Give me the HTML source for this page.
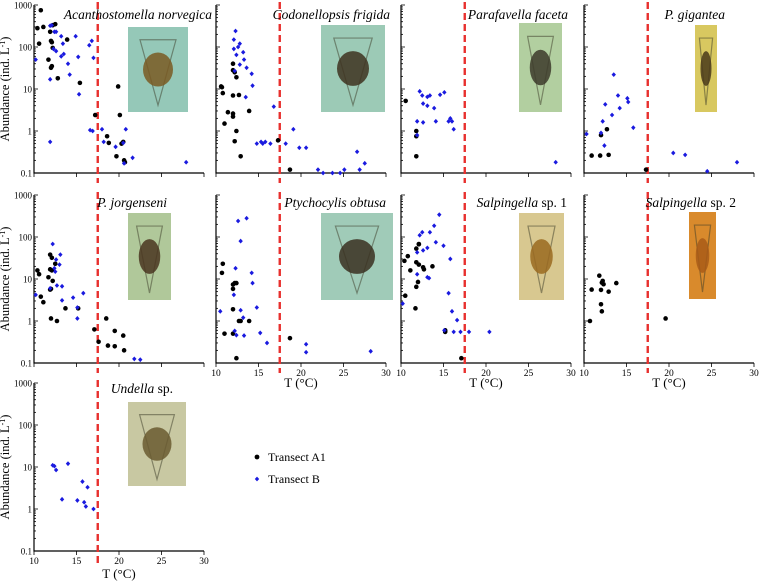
<!DOCTYPE html>
<html><head><meta charset="utf-8"><style>
body{margin:0;background:#fff;}
svg{display:block;font-family:"Liberation Serif",serif;}
</style></head><body>
<svg id="fig" width="760" height="583" viewBox="0 0 760 583"></svg>
<script>
// ---- data: [T (°C), abundance (ind. L-1)] ----
const acanA1=[[10.8,750],[10.4,280],[11.1,300],[10.6,120],[11.9,230],[12.2,330],[12.5,350],[12.0,140],[12.1,130],[12.2,95],[11.7,50],[12.0,32],[12.1,35],[12.8,18],[13.9,150],[15.4,14],[17.2,2.4],[18.6,0.75],[18.8,0.52],[19.7,0.25],[19.9,11.5],[20.1,2.4],[20.3,0.5],[20.5,0.55],[20.6,0.2],[20.7,0.18]];
const acanB=[[10.2,50],[11.9,320],[12.1,330],[12.4,230],[12.6,230],[13.2,180],[13.4,120],[12.3,90],[12.6,80],[13.2,60],[13.5,68],[14.0,40],[14.2,22],[14.9,180],[15.2,58],[15.3,7.5],[16.5,110],[16.8,140],[17.0,55],[11.9,17],[11.9,0.55],[16.6,1.05],[16.9,1.0],[18.0,1.1],[18.2,0.55],[19.6,0.42],[20.5,0.52],[20.8,1.1],[20.6,0.17],[21.6,0.23],[27.9,0.18]];
const codoA1=[[10.6,11.5],[10.7,11],[10.8,8],[12.0,40],[12.0,28],[12.2,25],[12.4,19],[12.0,7],[12.7,7.2],[11.4,2.8],[12.0,2.6],[12.0,2.2],[11.0,1.5],[12.4,1.0],[12.2,0.57],[12.9,0.25],[13.9,3],[17.3,0.6],[18.7,0.12]];
const codoB=[[12.3,240],[12.1,150],[12.8,120],[12.1,90],[12.6,100],[13.2,75],[12.4,65],[13.3,50],[12.8,38],[13.6,32],[12.2,27],[14.2,23],[14.3,12],[13.5,6.4],[16.8,3.8],[14.8,0.5],[15.3,0.55],[15.5,0.5],[15.8,0.55],[16.4,0.5],[18.2,0.5],[19.1,1.1],[19.8,0.4],[20.6,0.4],[22.0,0.12],[22.6,0.1],[23.7,0.1],[24.6,0.1],[25.1,0.12],[26.6,0.32],[26.9,0.12],[27.5,0.17]];
const paraA1=[[10.55,5.2],[11.8,1.0],[11.8,0.75],[11.8,0.25]];
const paraB=[[12.2,8.8],[12.5,7],[13.1,6.5],[13.4,7],[12.6,4.5],[13.1,4],[13.9,3.5],[14.6,7.3],[15.1,8.3],[11.9,1.7],[12.6,1.6],[14.1,1.7],[15.6,1.7],[15.8,2],[16.0,1.7],[16.2,1.1],[11.9,0.8],[28.2,0.18]];
const gigA1=[[10.9,0.26],[11.9,0.26],[12.9,0.27],[12.0,0.8],[12.7,1.1],[17.3,0.12]];
const gigB=[[10.3,0.85],[12.0,0.9],[12.2,1.7],[12.4,0.45],[12.5,4.3],[13.3,2.4],[13.5,22],[14.0,7],[14.2,3.5],[15.1,6],[15.2,4.9],[15.8,1.2],[20.5,0.3],[21.9,0.27],[24.5,0.11],[28.0,0.18]];
const jorgA1=[[10.4,16],[10.6,13],[11.9,38],[12.1,32],[12.5,23],[11.9,17],[12.1,16],[11.7,11],[12.2,9],[11.9,5.6],[12.0,5.8],[10.8,3.8],[11.1,2.8],[13.7,2.0],[15.2,2.0],[12.0,1.15],[12.7,1.0],[17.1,0.63],[17.6,0.32],[18.5,1.15],[18.7,0.26],[19.5,0.58],[19.5,0.25],[20.5,0.45],[20.6,0.2]];
const jorgB=[[10.2,4.2],[12.2,68],[12.6,29],[13.1,38],[13.0,22],[12.4,18],[12.5,15],[12.7,7],[13.3,6.7],[11.9,6],[13.3,3.1],[14.6,3.6],[15.8,4.6],[15.1,2.1],[15.1,1.15],[21.8,0.125],[22.5,0.12]];
const ptycA1=[[10.8,23],[10.7,14],[12.0,7.4],[12.2,8],[12.4,8],[12.0,5.8],[12.0,1.9],[12.7,1.0],[12.9,1.0],[13.9,1.0],[11.0,0.5],[12.0,0.5],[12.4,0.13],[18.7,0.39]];
const ptycB=[[12.6,240],[13.6,280],[12.9,80],[12.3,18],[14.2,14],[14.3,8],[12.1,4.2],[14.8,2.1],[12.9,1.8],[10.5,1.7],[13.2,1.2],[12.2,0.58],[12.4,0.46],[13.3,0.45],[15.2,0.52],[16.0,0.3],[20.6,0.28],[20.6,0.18],[28.2,0.19]];
const salp1A1=[[11.8,53],[12.1,67],[12.1,68],[10.8,35],[10.4,27],[11.8,25],[12.1,22],[11.1,16],[12.6,19],[12.7,17],[13.7,20],[12.0,8.5],[11.8,6.5],[10.5,4],[11.7,2],[15.2,0.6],[15.2,0.55],[17.1,0.13]];
const salp1B=[[14.5,340],[13.9,185],[13.4,130],[12.5,130],[12.2,110],[14.1,75],[15.0,62],[13.1,55],[12.6,48],[11.9,43],[15.8,30],[13.1,11],[13.3,10.5],[11.9,13],[15.6,4.6],[10.2,2.6],[16.0,1.7],[16.6,1.05],[15.1,0.6],[16.2,0.55],[17.0,0.55],[18.0,0.55],[20.4,0.55]];
const salp2A1=[[11.8,12],[12.1,8.2],[12.2,9],[12.3,7.5],[10.9,5.6],[12.0,5.5],[12.9,5],[13.8,8],[12.0,2.5],[12.1,1.7],[10.7,1.0],[19.6,1.15]];
const salp2B=[];
const undA1=[];
const undB=[[12.2,11],[12.4,10.5],[12.6,8.5],[14.0,12],[13.3,1.7],[15.1,1.6],[15.7,4.5],[15.9,1.45],[16.1,1.15],[16.3,3.3],[17.0,1.0]];
const xTicks=[10,15,20,25,30];
const yTicks=[0.1,1,10,100,1000];
const yTickLabels=["0.1","1","10","100","1000"];
const threshold=17.5;

const NS="http://www.w3.org/2000/svg";
const svg=document.getElementById('fig');
function mk(tag,attrs,parent){const e=document.createElementNS(NS,tag);for(const k in attrs)e.setAttribute(k,attrs[k]);(parent||svg).appendChild(e);return e;}

const panels=[
 {id:'acanthostomella',title:[['Acanthostomella norvegica',1]],col:0,row:0,a:acanA1,b:acanB,tx:212,ty:19,img:[128,27,60,85,'#95c8b8','#7a5a22'],xl:false},
 {id:'codonellopsis',title:[['Codonellopsis frigida',1]],col:1,row:0,a:codoA1,b:codoB,tx:390,ty:19,img:[321,25,64,87,'#9ccab6','#3e3220'],xl:false},
 {id:'parafavella',title:[['Parafavella faceta',1]],col:2,row:0,a:paraA1,b:paraB,tx:568,ty:19,img:[519,23,43,89,'#b2cfa0','#3c3a2a'],xl:false},
 {id:'p-gigantea',title:[['P. gigantea',1]],col:3,row:0,a:gigA1,b:gigB,tx:725,ty:19,img:[695,25,22,87,'#d8c860','#4a3a1a'],xl:false},
 {id:'p-jorgenseni',title:[['P. jorgenseni',1]],col:0,row:1,a:jorgA1,b:jorgB,tx:167,ty:207,img:[128,213,43,87,'#b0c89a','#4a3520'],xl:false},
 {id:'ptychocylis',title:[['Ptychocylis obtusa',1]],col:1,row:1,a:ptycA1,b:ptycB,tx:386,ty:207,img:[321,213,72,87,'#a0cbb8','#3a3020'],xl:true},
 {id:'salpingella-1',title:[['Salpingella',1],[' sp. 1',0]],col:2,row:1,a:salp1A1,b:salp1B,tx:567,ty:207,img:[519,213,45,87,'#d8c890','#9a6a20'],xl:true},
 {id:'salpingella-2',title:[['Salpingella',1],[' sp. 2',0]],col:3,row:1,a:salp2A1,b:salp2B,tx:736,ty:207,img:[689,212,27,87,'#d98a2c','#a85a18'],xl:true},
 {id:'undella',title:[['Undella',1],[' sp.',0]],col:0,row:2,a:undA1,b:undB,tx:173,ty:393,img:[128,402,58,84,'#c8c8a2','#6a5a30'],xl:true}
];
const colX=[34,216,401,584], rowY=[5,195,383], PW=170, PH=168;

panels.forEach(p=>{
  const x0=colX[p.col], y0=rowY[p.row];
  const X=t=>x0+(t-10)/20*PW;
  const Y=v=>y0+(3-Math.log10(v))/4*PH;
  const g=mk('g',{});
  
  
  const [ix,iy,iw,ih,c1,c2]=p.img;
  const im=mk('g',{},g);
  
  
  mk('rect',{x:ix,y:iy,width:iw,height:ih,fill:c1},im);
  mk('path',{d:`M${ix+iw*0.2},${iy+ih*0.15} L${ix+iw*0.8},${iy+ih*0.15} L${ix+iw*0.5},${iy+ih*0.92} Z`,fill:'none',stroke:'rgba(60,60,40,0.5)','stroke-width':1.2},im);
  mk('ellipse',{cx:ix+iw*0.5,cy:iy+ih*0.5,rx:iw*0.25,ry:ih*0.2,fill:c2,opacity:0.85},im);
  const ax=mk('path',{d:`M${x0},${y0} V${y0+PH} H${x0+PW}`,stroke:'#000','stroke-width':1.2,fill:'none'},g);
  
  
  for(let d=-1;d<3;d++){for(let m=1;m<10;m++){const v=m*Math.pow(10,d);const yy=Y(v);mk('line',{x1:x0,x2:x0+(m===1?4:2),y1:yy,y2:yy,stroke:'#000','stroke-width':0.8},g);}}
  mk('line',{x1:x0,x2:x0+4,y1:Y(1000),y2:Y(1000),stroke:'#000','stroke-width':0.8},g);
  if(p.col===0){yTicks.forEach((v,i)=>{const t=mk('text',{x:x0-2,y:Y(v)+3.5,'font-size':9,'text-anchor':'end'},g);t.textContent=yTickLabels[i];
    });}
  xTicks.forEach(v=>{mk('line',{x1:X(v),x2:X(v),y1:y0+PH,y2:y0+PH+4,stroke:'#000','stroke-width':0.8},g);
    if(p.xl){const t=mk('text',{x:X(v),y:y0+PH+13,'font-size':9.5,'text-anchor':'middle'},g);t.textContent=v;
      }});
  if(p.xl){const t=mk('text',{x:x0+PW/2,y:y0+PH+(p.row===2?27:24),'font-size':13,'text-anchor':'middle'},g);t.textContent='T (°C)';
    }
  if(p.col===0){const cy=y0+PH/2;const t=mk('text',{x:0,y:0,'font-size':12.5,'text-anchor':'middle',transform:`translate(9,${cy}) rotate(-90)`},g);
    t.textContent='Abundance (ind. L';const s=mk('tspan',{dy:-4,'font-size':8},t);s.textContent='-1';const s2=mk('tspan',{dy:4},t);s2.textContent=')';
    }
  const th=mk('line',{x1:X(threshold),x2:X(threshold),y1:y0-3,y2:y0+PH+(p.row===2?12:10),stroke:'#e8302e','stroke-width':2.4,'stroke-dasharray':'7,4'},g);
  
  
  const tt=mk('text',{x:p.tx,y:p.ty,'font-size':13.5,'text-anchor':'end'},g);
  p.title.forEach(([s,it])=>{const sp=mk('tspan',{'font-style':it?'italic':'normal'},tt);sp.textContent=s;});
  
  
  p.a.forEach(([t,v])=>{const c=mk('circle',{cx:X(t),cy:Y(v),r:2.3,fill:'#000'},g);
    
    });
  p.b.forEach(([t,v])=>{const cx=X(t),cy=Y(v);const c=mk('path',{d:`M${cx},${cy-2.4} L${cx+2.2},${cy} L${cx},${cy+2.4} L${cx-2.2},${cy} Z`,fill:'#1a1adf'},g);
    
    });
});
const lg=mk('g',{});


const e1=mk('g',{},lg);


mk('circle',{cx:257,cy:457,r:2.4,fill:'#000'},e1);
const l1=mk('text',{x:268,y:461,'font-size':12},e1);l1.textContent='Transect A1';
const e2=mk('g',{},lg);


mk('path',{d:'M257,476.6 L259.2,479 L257,481.4 L254.8,479 Z',fill:'#1a1adf'},e2);
const l2=mk('text',{x:268,y:483,'font-size':12},e2);l2.textContent='Transect B';
</script>
</body></html>
